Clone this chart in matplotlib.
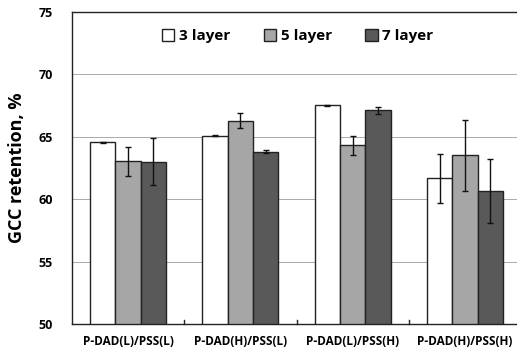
import matplotlib
matplotlib.use("Agg")
import matplotlib.pyplot as plt
import numpy as np

categories = ["P-DAD(L)/PSS(L)", "P-DAD(H)/PSS(L)", "P-DAD(L)/PSS(H)", "P-DAD(H)/PSS(H)"]
series_names = ["3 layer", "5 layer", "7 layer"]
layer3 = [64.55, 65.08, 67.5, 61.65]
layer3_err = [0.05, 0.06, 0.04, 1.95]
layer5 = [63.02, 66.27, 64.3, 63.5]
layer5_err = [1.18, 0.6, 0.75, 2.86]
layer7 = [62.97, 63.8, 67.1, 60.62]
layer7_err = [1.88, 0.12, 0.25, 2.55]
yticks = [50, 55, 60, 65, 70, 75]

colors = ["#ffffff", "#a6a6a6", "#595959"]
plt.rcParams['font.family'] = ['Open Sans', 'DejaVu Sans']
plt.rcParams['font.weight'] = 'bold'

fig = plt.figure(figsize=(5.17, 3.53), dpi=100)
ax = fig.add_axes([72/517, 29/353, 449/517, 312.3/353])

x = np.arange(len(categories))
w = 0.225
vals = [layer3, layer5, layer7]
errs = [layer3_err, layer5_err, layer7_err]
for i, (v, e, c, n) in enumerate(zip(vals, errs, colors, series_names)):
    ax.bar(x + (i - 1) * w, v, w, color=c, edgecolor="#222222", linewidth=1.0,
           label=n, zorder=2)
    ax.errorbar(x + (i - 1) * w, v, yerr=e, fmt='none', ecolor='#111111',
                elinewidth=1.0, capsize=2.5, capthick=1.0, zorder=3)

ax.set_ylim(50, 75)
ax.set_xlim(-0.5, len(categories) - 0.5)
ax.set_yticks(yticks)
ax.set_yticklabels([str(t) for t in yticks], fontsize=9, fontweight='bold')
ax.tick_params(axis='y', length=0, pad=14)
ax.set_xticks(x)
ax.set_xticklabels(categories, fontsize=8.5, fontweight='bold')
ax.tick_params(axis='x', length=0, pad=8)
for b in np.arange(0.5, len(categories) - 0.5, 1):
    ax.plot([b, b], [50, 50.35], color='#222222', lw=1, zorder=4, clip_on=False)
for g in [55, 60, 65, 70]:
    ax.axhline(g, color='#aaaaaa', lw=0.7, zorder=1)
for s in ['top', 'left', 'bottom']:
    ax.spines[s].set_color('#222222')
    ax.spines[s].set_linewidth(1.0)
ax.spines['right'].set_visible(False)
ax.set_ylabel("GCC retention, %", fontsize=13, fontweight='bold', labelpad=9)

leg = ax.legend(loc='center', bbox_to_anchor=(0.503, 0.922), ncol=3, frameon=False,
                handlelength=0.8, handleheight=0.8, handletextpad=0.3,
                columnspacing=2.2, prop={'weight': 'bold', 'size': 11})
for p in leg.get_patches():
    p.set_edgecolor('#222222')

fig.savefig("out.png", dpi=100)
